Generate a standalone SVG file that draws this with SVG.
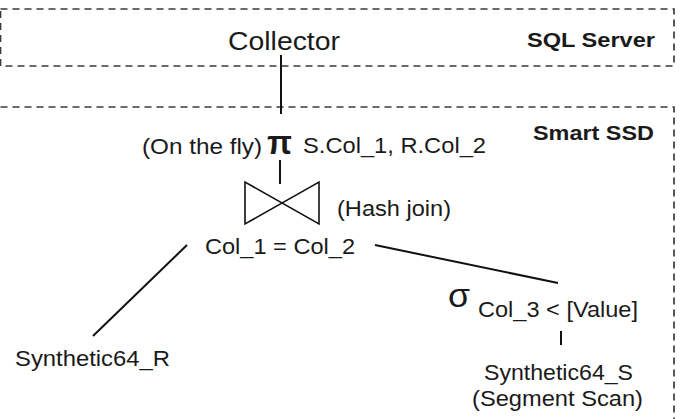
<svg xmlns="http://www.w3.org/2000/svg" width="681" height="419" viewBox="0 0 681 419">
<style>
text{font-family:"Liberation Sans",Arial,sans-serif;fill:#1a1a1a}
.t{font-size:22px}
.b{font-size:21px;font-weight:bold}
.box{fill:none;stroke:#3a3a3a;stroke-width:1.7;stroke-dasharray:7 5}
.ln{stroke:#111;stroke-width:2;fill:none}
.bt{stroke:#111;stroke-width:1.6;fill:none;stroke-linejoin:miter}
</style>
<rect width="681" height="419" fill="#fff"/>
<g id="sqlserver">
<rect class="box" x="0.5" y="9" width="673.5" height="57"/>
<text class="b" x="527" y="47" textLength="128" lengthAdjust="spacingAndGlyphs">SQL Server</text>
</g>
<g id="smartssd">
<path class="box" d="M0.5,107 H674 V419"/>
<text class="b" x="533" y="140" textLength="121" lengthAdjust="spacingAndGlyphs">Smart SSD</text>
</g>
<g id="connectors">
<line class="ln" x1="281" y1="55" x2="281" y2="114"/>
<line class="ln" x1="280" y1="160" x2="280" y2="184"/>
<line class="ln" x1="187" y1="245" x2="93" y2="336"/>
<line class="ln" x1="375" y1="245" x2="558" y2="283"/>
<line class="ln" x1="561" y1="331" x2="561" y2="345"/>
</g>
<g id="collector">
<text x="228" y="50" style="font-size:26px" textLength="112" lengthAdjust="spacingAndGlyphs">Collector</text>
</g>
<g id="projection">
<text class="t" x="142" y="154" textLength="120" lengthAdjust="spacingAndGlyphs">(On the fly)</text>
<text x="267" y="154" style="font-size:34px;font-weight:bold" textLength="25" lengthAdjust="spacingAndGlyphs">π</text>
<text class="t" x="303" y="153" textLength="183" lengthAdjust="spacingAndGlyphs">S.Col_1, R.Col_2</text>
</g>
<g id="hashjoin">
<path class="bt" d="M245,182 L245,224 L319,182 L319,224 Z"/>
<text class="t" x="337" y="216" textLength="114" lengthAdjust="spacingAndGlyphs">(Hash join)</text>
<text class="t" x="205" y="254" textLength="150" lengthAdjust="spacingAndGlyphs">Col_1 = Col_2</text>
</g>
<g id="selection">
<text x="448" y="307" style="font-size:34px" textLength="22" lengthAdjust="spacingAndGlyphs">σ</text>
<text class="t" x="478" y="317" textLength="160" lengthAdjust="spacingAndGlyphs">Col_3 &lt; [Value]</text>
</g>
<g id="synthetic64_r">
<text class="t" x="15" y="366" textLength="155" lengthAdjust="spacingAndGlyphs">Synthetic64_R</text>
</g>
<g id="synthetic64_s">
<text class="t" x="484" y="380" textLength="149" lengthAdjust="spacingAndGlyphs">Synthetic64_S</text>
<text class="t" x="472" y="406" textLength="171" lengthAdjust="spacingAndGlyphs">(Segment Scan)</text>
</g>
</svg>
